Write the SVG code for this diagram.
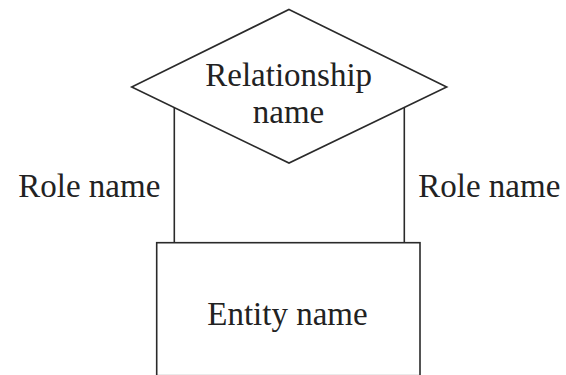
<svg xmlns="http://www.w3.org/2000/svg" width="566" height="375" viewBox="0 0 566 375">
<style>
.shape{fill:#fff;stroke:#2a2a2a;stroke-width:1.6}
.conn{stroke:#2a2a2a;stroke-width:1.6;fill:none}
.lbl{font-family:"Liberation Serif","Times New Roman",serif;font-size:33px;fill:#222}
</style>
<rect width="566" height="375" fill="#fff"/>
<g id="connectors">
<line class="conn" x1="174.3" y1="107.6" x2="174.3" y2="242.7"/>
<line class="conn" x1="404.3" y1="107.4" x2="404.3" y2="242.7"/>
</g>
<g id="relationship">
<polygon class="shape" points="289,9.5 446.7,87 289,163 131.7,87"/>
<text class="lbl" x="288.7" y="86" text-anchor="middle">Relationship</text>
<text class="lbl" x="288.5" y="122.5" text-anchor="middle">name</text>
</g>
<g id="entity">
<rect class="shape" x="156.7" y="242.7" width="263.3" height="133"/>
<text class="lbl" x="287.5" y="325" text-anchor="middle">Entity name</text>
</g>
<g id="role-left">
<text class="lbl" x="18.3" y="197">Role name</text>
</g>
<g id="role-right">
<text class="lbl" x="418.3" y="197">Role name</text>
</g>
</svg>
